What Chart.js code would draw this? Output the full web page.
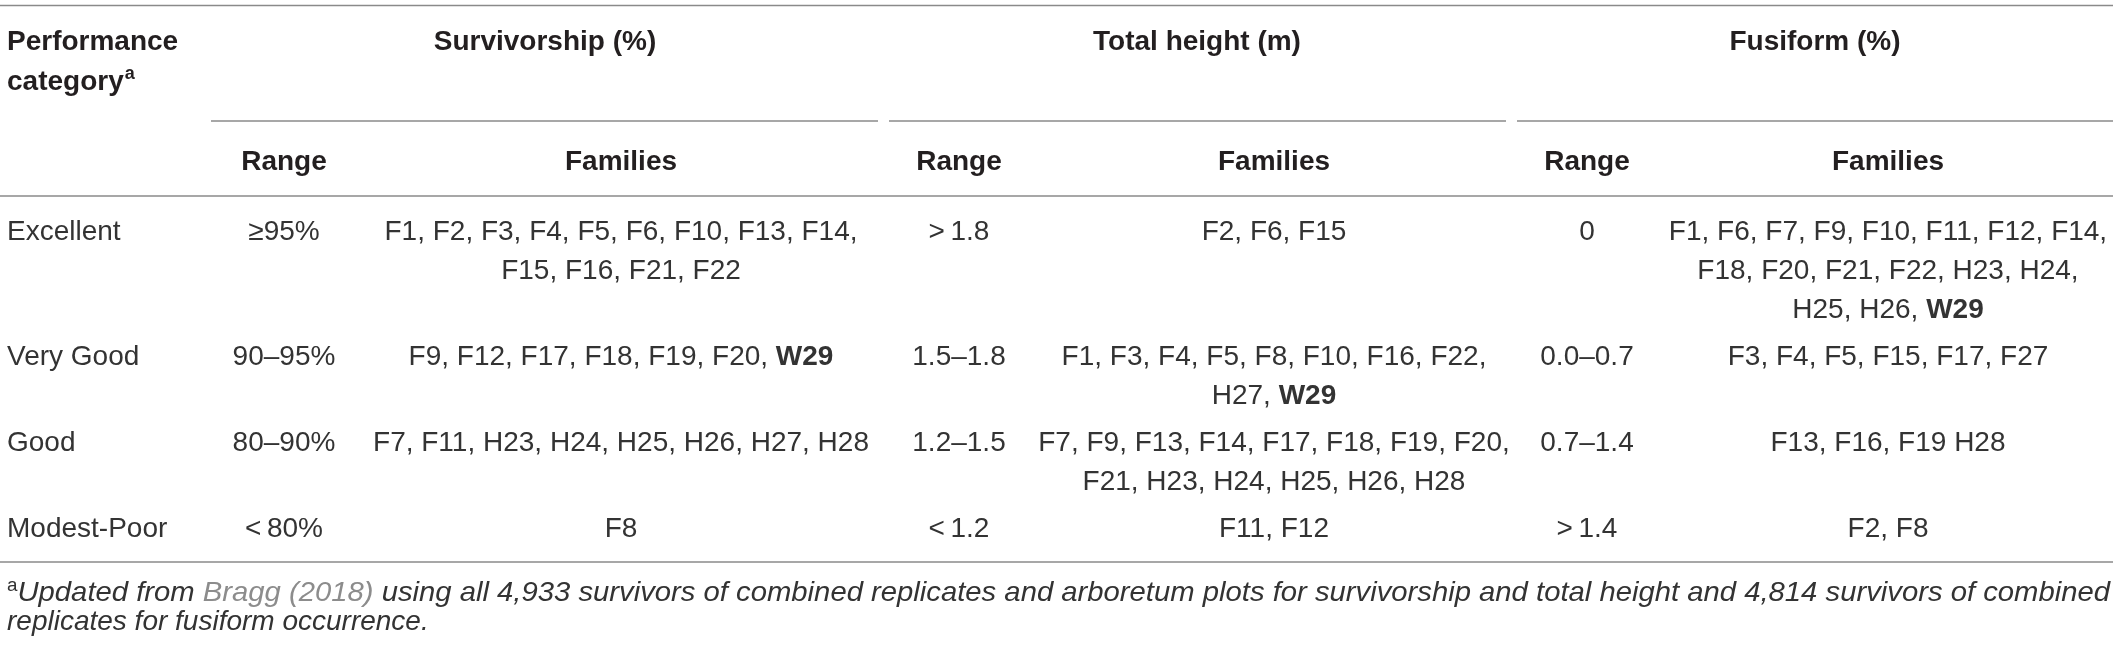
<!DOCTYPE html>
<html>
<head>
<meta charset="utf-8">
<script src="https://cdn.jsdelivr.net/npm/chart.js@4.4.1/dist/chart.umd.min.js"></script>
<style>
  html, body { margin: 0; padding: 0; background: #fff; }
  #wrap { width: 2118px; height: 648px; }
</style>
</head>
<body>
<div id="wrap"><canvas id="tableChart" width="2118" height="648"></canvas></div>
<script>
/* ---------------------------
   Table data
---------------------------- */
const categories = ["Excellent", "Very Good", "Good", "Modest-Poor"];
const groupHeaders = ["Survivorship (%)", "Total height (m)", "Fusiform (%)"];
const subHeaders = ["Range", "Families"];

const survivorshipRange = ["\u226595%", "90\u201395%", "80\u201390%", "<\u200980%"];
const survivorshipFamilies = [
    ["F1, F2, F3, F4, F5, F6, F10, F13, F14,", "F15, F16, F21, F22"],
    ["F9, F12, F17, F18, F19, F20, W29"],
    ["F7, F11, H23, H24, H25, H26, H27, H28"],
    ["F8"]
];

const heightRange = [">\u20091.8", "1.5\u20131.8", "1.2\u20131.5", "<\u20091.2"];
const heightFamilies = [
    ["F2, F6, F15"],
    ["F1, F3, F4, F5, F8, F10, F16, F22,", "H27, W29"],
    ["F7, F9, F13, F14, F17, F18, F19, F20,", "F21, H23, H24, H25, H26, H28"],
    ["F11, F12"]
];

const fusiformRange = ["0", "0.0\u20130.7", "0.7\u20131.4", ">\u20091.4"];
const fusiformFamilies = [
    ["F1, F6, F7, F9, F10, F11, F12, F14,", "F18, F20, F21, F22, H23, H24,", "H25, H26, W29"],
    ["F3, F4, F5, F15, F17, F27"],
    ["F13, F16, F19 H28"],
    ["F2, F8"]
];

const boldFamilies = ["W29"];

const footnoteLines = [
    [
        { text: "a", sup: true },
        { text: "Updated from " },
        { text: "Bragg (2018)", link: true },
        { text: " using all 4,933 survivors of combined replicates and arboretum plots for survivorship and total height and 4,814 survivors of combined" }
    ],
    [
        { text: "replicates for fusiform occurrence." }
    ]
];

/* ---------------------------
   Layout (table units = px)
---------------------------- */
const FONT = "'Liberation Sans', Arial, Helvetica, sans-serif";
const layout = {
    left: 0, right: 2113,
    firstColX: 7,
    groupCenters: [545, 1197, 1815],
    groupRules: [[211, 878], [889, 1506], [1517, 2113]],
    rangeCenters: [284, 959, 1587],
    familyCenters: [621, 1274, 1888],
    topRule: 5.5,
    headLine1: 42, headLine2: 82,
    groupRule: 121,
    subHead: 162,
    subRule: 196,
    firstPad: 36, lineH: 39, rowGap: 8, lastPad: 33,
    footBase: [601, 630],
    footRight: 2110
};

/* ---------------------------
   Table drawing plugin
---------------------------- */
function drawRich(ctx, line, cx, cy, font, boldFont) {
    const pattern = new RegExp("(" + boldFamilies.join("|") + ")");
    const parts = line.split(pattern).filter(p => p.length);
    const widths = parts.map(p => {
        ctx.font = boldFamilies.includes(p) ? boldFont : font;
        return ctx.measureText(p).width;
    });
    let x = cx - widths.reduce((a, b) => a + b, 0) / 2;
    parts.forEach((p, i) => {
        ctx.font = boldFamilies.includes(p) ? boldFont : font;
        ctx.fillText(p, x, cy);
        x += widths[i];
    });
}

const tablePlugin = {
    id: "tableDraw",
    afterDraw(chart) {
        const ctx = chart.ctx;
        const px = v => chart.scales.x.getPixelForValue(v);
        const py = v => chart.scales.y.getPixelForValue(v);
        const body = "28px " + FONT;
        const bold = "bold 28px " + FONT;

        ctx.save();
        ctx.strokeStyle = "#8a8a8a";
        ctx.lineWidth = 1.6;
        const rule = (x0, x1, yv) => {
            ctx.beginPath();
            ctx.moveTo(px(x0), py(yv));
            ctx.lineTo(px(x1), py(yv));
            ctx.stroke();
        };

        // header rows
        ctx.fillStyle = "#231f20";
        ctx.textBaseline = "middle";
        ctx.textAlign = "left";
        ctx.font = bold;
        ctx.fillText("Performance", px(layout.firstColX), py(layout.headLine1));
        ctx.fillText("category", px(layout.firstColX), py(layout.headLine2));
        const catW = ctx.measureText("category").width;
        ctx.font = "bold 18px " + FONT;
        ctx.fillText("a", px(layout.firstColX) + catW + 1, py(layout.headLine2 - 8));

        ctx.textAlign = "center";
        ctx.font = bold;
        groupHeaders.forEach((h, i) => {
            ctx.fillText(h, px(layout.groupCenters[i]), py(layout.headLine1));
            ctx.fillText(subHeaders[0], px(layout.rangeCenters[i]), py(layout.subHead));
            ctx.fillText(subHeaders[1], px(layout.familyCenters[i]), py(layout.subHead));
        });

        rule(layout.left, layout.right, layout.topRule);
        layout.groupRules.forEach(r => rule(r[0], r[1], layout.groupRule));
        rule(layout.left, layout.right, layout.subRule);

        // body rows
        const ranges = [survivorshipRange, heightRange, fusiformRange];
        const families = [survivorshipFamilies, heightFamilies, fusiformFamilies];
        ctx.fillStyle = "#333333";
        let yc = layout.subRule + layout.firstPad;
        categories.forEach((cat, r) => {
            const nLines = Math.max(...families.map(f => f[r].length));
            ctx.textAlign = "left";
            ctx.font = body;
            ctx.fillText(cat, px(layout.firstColX), py(yc));
            for (let g = 0; g < 3; g++) {
                ctx.textAlign = "center";
                ctx.font = body;
                ctx.fillText(ranges[g][r], px(layout.rangeCenters[g]), py(yc));
                ctx.textAlign = "left";
                families[g][r].forEach((line, k) => {
                    drawRich(ctx, line, px(layout.familyCenters[g]), py(yc + k * layout.lineH), body, bold);
                });
            }
            yc += (nLines - 1) * layout.lineH;
            if (r < categories.length - 1) yc += layout.lineH + layout.rowGap;
        });
        rule(layout.left, layout.right, yc + layout.lastPad);

        // footnote
        ctx.textAlign = "left";
        ctx.textBaseline = "alphabetic";
        const ital = "italic 28px " + FONT;
        const fontOf = s => s.sup ? "18px " + FONT : ital;
        footnoteLines.forEach((segs, li) => {
            const total = segs.reduce((w, s) => {
                ctx.font = fontOf(s);
                return w + ctx.measureText(s.text).width;
            }, 0);
            const avail = layout.footRight - layout.firstColX;
            const k = li === 0 ? avail / total : 1;
            ctx.save();
            ctx.translate(px(layout.firstColX), py(layout.footBase[li]));
            ctx.scale(k, 1);
            let x = 0;
            segs.forEach(s => {
                ctx.font = fontOf(s);
                ctx.fillStyle = s.link ? "#8c8c8c" : "#333333";
                ctx.fillText(s.text, x, s.sup ? -10 : 0);
                x += ctx.measureText(s.text).width;
            });
            ctx.restore();
        });
        ctx.restore();
    }
};

/* ---------------------------
   Chart with hidden scales
---------------------------- */
const tableChart = new Chart(document.getElementById("tableChart").getContext("2d"), {
    type: "scatter",
    data: { datasets: [{ data: [] }] },
    options: {
        responsive: false,
        animation: false,
        devicePixelRatio: 1,
        layout: { padding: 0 },
        scales: {
            x: { type: "linear", min: 0, max: 2118, display: false },
            y: { type: "linear", min: 0, max: 648, reverse: true, display: false }
        },
        plugins: {
            legend: { display: false },
            tooltip: { enabled: false }
        }
    },
    plugins: [tablePlugin]
});
</script>
</body>
</html>
